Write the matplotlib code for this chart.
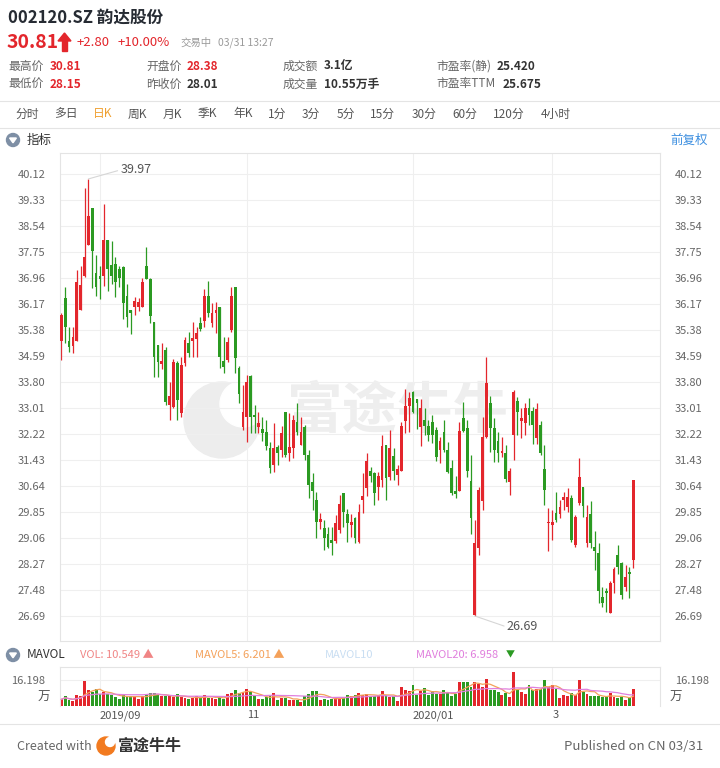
import matplotlib
matplotlib.use("Agg")
import matplotlib.pyplot as plt
from matplotlib.patches import Circle, Polygon
import numpy as np
import pandas as pd

plt.rcParams["font.family"] = ["Noto Sans CJK SC", "DejaVu Sans"]

# daily K-line, 2019-08 .. 2020-03-31
opens = [35.06, 36.34, 35.05, 34.89, 35.06, 35.99, 37.03, 37.96, 39.08, 37.10,
         37.03, 37.03, 38.11, 37.36, 37.38, 37.22, 37.28, 36.42, 35.99, 36.09,
         36.07, 36.07, 37.33, 36.93, 35.63, 34.92, 34.35, 34.77, 33.10, 33.05,
         34.37, 32.85, 34.37, 34.99, 35.05, 35.11, 35.60, 35.66, 36.42, 35.58,
         35.89, 36.09, 34.45, 34.47, 35.38, 36.70, 34.22, 32.44, 32.75, 33.98,
         32.80, 32.42, 32.36, 32.29, 31.78, 31.28, 31.81, 31.73, 32.90, 31.63,
         31.78, 32.59, 31.89, 32.44, 31.58, 30.77, 30.22, 29.56, 29.35, 29.18,
         29.00, 28.98, 29.30, 30.42, 29.79, 29.46, 29.68, 28.95, 30.20, 30.57,
         31.11, 31.03, 30.62, 30.82, 31.89, 30.90, 31.55, 30.98, 31.11, 32.63,
         33.07, 33.51, 33.27, 32.42, 32.65, 32.46, 32.59, 32.34, 31.73, 32.29,
         31.73, 31.18, 30.50, 30.50, 32.70, 32.39, 30.80, 26.72, 28.75, 30.17,
         32.14, 33.15, 32.39, 32.02, 31.63, 31.63, 30.77, 32.19, 33.23, 32.60,
         32.55, 33.00, 32.93, 32.09, 32.50, 31.15, 29.51, 29.46, 29.81, 29.79,
         30.22, 29.99, 30.27, 28.85, 30.12, 30.62, 28.90, 29.79, 28.78, 28.61,
         27.28, 27.46, 26.79, 27.68, 28.54, 28.29, 27.58, 28.04, 28.38]
highs = [35.89, 36.70, 35.48, 35.48, 37.20, 37.31, 39.68, 39.97, 39.08, 37.66,
         37.31, 39.21, 38.11, 38.09, 37.61, 37.31, 37.31, 36.78, 35.99, 36.39,
         36.35, 36.95, 37.91, 36.95, 35.63, 34.92, 34.97, 34.85, 33.79, 34.50,
         34.45, 34.57, 35.18, 35.33, 35.63, 35.48, 35.79, 36.62, 36.88, 36.19,
         36.22, 36.09, 35.18, 35.18, 36.70, 36.70, 34.30, 33.71, 34.01, 34.01,
         33.10, 32.90, 32.75, 32.65, 31.99, 32.54, 31.89, 32.46, 32.90, 32.85,
         32.80, 33.15, 32.75, 32.49, 31.73, 31.03, 30.47, 29.83, 29.61, 29.40,
         29.40, 29.76, 30.37, 30.44, 29.93, 29.79, 29.71, 30.10, 31.03, 31.63,
         31.23, 31.08, 31.08, 32.19, 31.89, 32.34, 31.79, 31.28, 32.59, 33.58,
         33.51, 33.54, 33.27, 33.27, 33.00, 32.65, 32.80, 32.42, 32.14, 32.65,
         31.99, 31.43, 30.94, 32.59, 33.20, 32.65, 31.58, 29.61, 30.60, 32.75,
         34.56, 33.36, 32.70, 32.29, 32.14, 31.89, 31.18, 33.56, 33.33, 33.00,
         33.15, 33.30, 33.05, 33.15, 32.60, 31.89, 29.96, 29.91, 30.47, 30.22,
         30.47, 30.57, 30.37, 29.76, 31.48, 30.62, 30.06, 30.17, 29.28, 28.90,
         27.58, 27.53, 27.76, 28.19, 28.85, 28.34, 28.24, 28.19, 30.81]
lows = [34.47, 34.99, 34.72, 34.69, 35.06, 35.99, 37.00, 37.96, 36.65, 36.42,
        36.31, 36.72, 36.57, 36.78, 36.37, 36.70, 35.70, 35.48, 35.25, 35.84,
        35.95, 36.07, 36.92, 35.60, 33.96, 33.96, 34.20, 33.10, 32.65, 33.00,
        32.65, 32.75, 34.30, 34.57, 34.57, 34.57, 35.35, 35.48, 35.79, 35.48,
        35.30, 34.22, 34.06, 34.42, 35.33, 34.06, 33.17, 32.34, 31.99, 32.24,
        32.24, 32.24, 32.00, 31.73, 31.03, 31.08, 31.28, 31.51, 31.53, 31.41,
        31.48, 32.19, 31.89, 31.43, 30.27, 29.91, 29.05, 29.32, 28.70, 28.75,
        28.54, 28.90, 29.20, 29.40, 28.95, 29.10, 28.92, 28.90, 29.81, 30.34,
        30.77, 30.06, 30.22, 30.62, 30.20, 30.82, 30.82, 30.67, 31.11, 32.24,
        32.29, 32.85, 32.36, 31.86, 32.19, 32.02, 31.96, 31.41, 31.35, 31.68,
        31.03, 30.37, 30.27, 30.50, 32.29, 30.92, 29.18, 26.69, 28.54, 29.91,
        32.10, 31.68, 31.38, 31.38, 31.51, 30.77, 30.37, 31.43, 32.19, 32.09,
        32.19, 32.50, 31.92, 31.92, 31.58, 30.06, 28.65, 29.00, 29.56, 29.66,
        29.91, 29.86, 28.95, 28.80, 30.06, 29.71, 28.80, 28.75, 28.09, 27.07,
        26.97, 26.82, 26.77, 27.40, 27.97, 27.20, 27.46, 27.23, 28.15]
closes = [35.84, 35.48, 34.87, 35.18, 36.85, 36.75, 37.59, 38.84, 37.79, 36.70,
          36.93, 38.11, 37.22, 37.03, 36.85, 36.97, 36.19, 35.76, 35.89, 36.26,
          36.22, 36.85, 36.92, 35.82, 34.57, 34.42, 34.45, 33.18, 33.36, 34.42,
          33.25, 34.32, 35.08, 34.67, 35.13, 35.28, 35.41, 36.42, 35.91, 35.91,
          35.98, 34.57, 34.25, 35.03, 36.42, 34.54, 33.44, 32.90, 33.81, 32.75,
          32.73, 32.54, 32.24, 31.86, 31.18, 31.78, 31.65, 32.26, 31.58, 31.81,
          32.64, 32.29, 32.29, 31.58, 30.67, 30.50, 29.56, 29.64, 29.05, 28.80,
          28.90, 29.51, 30.08, 29.86, 29.51, 29.56, 29.05, 29.85, 30.34, 31.41,
          30.95, 30.44, 30.94, 31.86, 30.87, 31.79, 31.11, 31.15, 32.46, 33.07,
          33.30, 32.90, 33.15, 33.00, 32.46, 32.19, 32.19, 31.51, 32.02, 31.73,
          31.08, 30.44, 30.40, 32.32, 32.32, 31.11, 29.66, 28.92, 30.52, 32.14,
          33.78, 32.39, 31.73, 31.63, 31.71, 30.84, 31.11, 33.51, 32.90, 32.70,
          33.00, 32.80, 32.50, 32.97, 31.63, 30.52, 29.56, 29.56, 29.61, 29.99,
          30.30, 30.30, 29.00, 29.71, 30.90, 30.03, 29.71, 28.90, 28.65, 27.46,
          27.07, 27.40, 27.68, 28.11, 28.19, 27.33, 27.86, 27.97, 30.81]
# volume in 万手
volumes = [4.2, 6.1, 3.6, 2.9, 6.7, 6.1, 15.8, 9.9, 8.8, 10.5,
           7.8, 8.8, 7.8, 6.7, 5.7, 4.6, 6.7, 6.1, 6.1, 6.1,
           4.6, 6.1, 6.7, 8.4, 8.2, 6.7, 6.1, 6.1, 6.1, 5.7,
           7.8, 5.7, 5.3, 4.2, 5.3, 6.1, 5.3, 6.7, 5.3, 5.3,
           4.6, 5.7, 4.6, 7.8, 8.4, 9.9, 8.2, 8.8, 10.5, 8.8,
           6.1, 4.6, 4.6, 5.7, 6.1, 8.4, 3.6, 5.3, 5.3, 4.0,
           4.0, 3.6, 2.5, 6.1, 7.8, 9.5, 9.5, 4.0, 4.6, 3.6,
           4.6, 5.7, 5.3, 5.3, 6.7, 6.1, 6.7, 8.2, 6.7, 7.8,
           6.1, 6.1, 6.7, 9.5, 6.7, 5.7, 6.1, 2.9, 12.0, 9.9,
           9.5, 13.4, 7.1, 9.5, 11.6, 7.1, 9.5, 7.8, 7.4, 9.9,
           8.2, 6.1, 7.8, 15.1, 15.1, 15.1, 12.0, 15.1, 14.1, 12.0,
           17.2, 9.9, 9.9, 8.8, 6.7, 8.2, 5.7, 21.4, 9.9, 8.8,
           7.8, 13.0, 9.9, 10.9, 10.9, 16.6, 12.0, 13.0, 10.9, 5.3,
           6.7, 6.1, 8.2, 6.7, 16.2, 8.8, 7.8, 6.1, 6.1, 6.1,
           5.7, 5.7, 8.2, 5.7, 5.3, 5.7, 4.0, 5.3, 10.549]

price_ticks = [40.12, 39.33, 38.54, 37.75, 36.96, 36.17, 35.38, 34.59, 33.80,
               33.01, 32.22, 31.43, 30.64, 29.85, 29.06, 28.27, 27.48, 26.69]
month_idx = [10, 48, 91, 127]
month_labels = ["2019/09", "11", "2020/01", "3"]
vol_tick = 16.198
tabs = ["分时", "多日", "日K", "周K", "月K", "季K", "年K", "1分", "3分", "5分",
        "15分", "30分", "60分", "120分", "4小时"]

RED = "#e3262c"
GREEN = "#2b9a22"
GRID = "#efefef"
EDGE = "#e4e4e4"

W, H = 720, 768
fig = plt.figure(figsize=(W / 100, H / 100), dpi=100)

# background layer in pixel coordinates (header, watermark, footer)
bg = fig.add_axes([0, 0, 1, 1], zorder=-1)
bg.set_xlim(0, W)
bg.set_ylim(H, 0)
bg.axis("off")


def t(x, y, s, **kw):
    kw.setdefault("va", "center")
    bg.text(x, y, s, **kw)


t(8, 18, "002120.SZ 韵达股份", fontsize=12, fontweight="bold", color="#262b33")
t(7, 43, "30.81", fontsize=14, fontweight="bold", color=RED)
bg.add_patch(Polygon([(58, 41), (64.5, 33), (71, 41)], closed=True, color=RED))
bg.add_patch(Polygon([(62.3, 40), (66.7, 40), (66.7, 51), (62.3, 51)], closed=True, color=RED))
t(77, 43, "+2.80", fontsize=9.5, color=RED)
t(118, 43, "+10.00%", fontsize=9.5, color=RED)
t(180, 43, "交易中", fontsize=7.5, color="#9a9a9a")
t(218, 43, "03/31 13:27", fontsize=7.5, color="#9a9a9a")

info_rows = [
    (66, [("最高价", "30.81", RED), ("开盘价", "28.38", RED),
          ("成交额", "3.1亿", "#333333"), ("市盈率(静)", "25.420", "#333333")]),
    (84, [("最低价", "28.15", RED), ("昨收价", "28.01", "#333333"),
          ("成交量", "10.55万手", "#333333"), ("市盈率TTM", "25.675", "#333333")]),
]
label_x = [8, 146, 283, 436]
value_x = [50, 187, 324, None]
for y, row in info_rows:
    for j, (lab, val, col) in enumerate(row):
        t(label_x[j], y, lab, fontsize=8.5, color="#666666")
        vx = value_x[j] if value_x[j] is not None else (497 if "静" in lab else 503)
        t(vx, y, val, fontsize=8.5, fontweight="bold", color=col)

bg.plot([0, W], [101, 101], color=EDGE, lw=0.8)
bg.plot([0, W], [128, 128], color=EDGE, lw=0.8)
tab_x = [15, 54, 93, 128, 163, 198, 233, 268, 302, 337, 370, 412, 452, 493, 541]
for tx, lab in zip(tab_x, tabs):
    t(tx, 114, lab, fontsize=8.5, color="#f0a030" if lab == "日K" else "#555555")


def section_icon(y):
    bg.add_patch(Circle((13, y), 6.5, color="#7e8fa5"))
    bg.add_patch(Polygon([(9.6, y - 2), (16.4, y - 2), (13, y + 2.8)], closed=True, color="white"))


section_icon(140)
t(27, 140, "指标", fontsize=9, color="#333333")
t(708, 140, "前复权", fontsize=9, color="#3d8fe0", ha="right")

# watermark
bg.add_patch(Circle((222, 420), 38, color="#ededed", zorder=0))
bg.add_patch(Circle((243, 404), 23, color="white", zorder=0))
bg.add_patch(Circle((217, 428), 7, color="#ededed", zorder=0))
t(398, 412, "富途牛牛", fontsize=40, fontweight="bold", color="#eeeeee", ha="center", zorder=0)

# volume header
section_icon(655)
t(27, 655, "MAVOL", fontsize=8.5, color="#333333")
t(80, 655, "VOL: 10.549 ▲", fontsize=8, color="#f08585")
t(195, 655, "MAVOL5: 6.201 ▲", fontsize=8, color="#f4a15a")
t(325, 655, "MAVOL10", fontsize=8, color="#c9def2")
t(416, 655, "MAVOL20: 6.958", fontsize=8, color="#e07fdd")
t(506, 655, "▼", fontsize=6.5, color=GREEN)

# footer
bg.plot([0, W], [724, 724], color=EDGE, lw=0.8)
t(17, 747, "Created with", fontsize=9, color="#666666")
bg.add_patch(Circle((106, 746), 9, color="#f27a1f"))
bg.add_patch(Circle((110, 742), 4.5, color="white"))
t(118, 746, "富途牛牛", fontsize=11.5, fontweight="bold", color="#333333")
t(703, 747, "Published on CN 03/31", fontsize=9.5, color="#666666", ha="right")

# ---- candlestick panel
n = len(closes)
xs = np.arange(n)
o = np.array(opens)
c = np.array(closes)
colors = [RED if cc >= oo else GREEN for oo, cc in zip(o, c)]

px_per_price = 26 / 0.79
y_top = price_ticks[0] + (174 - 153) / px_per_price
y_bot = price_ticks[-1] - (641 - 616) / px_per_price
x_lo, x_hi = -0.34, 154.9

ax = fig.add_axes([60 / W, 1 - 641 / H, 600 / W, (641 - 153) / H])
ax.patch.set_alpha(0)
ax.vlines(xs, lows, highs, colors=colors, lw=0.9, zorder=2)
body_low = np.minimum(o, c)
body_h = np.maximum(np.abs(c - o), 0.03)
ax.bar(xs, body_h, bottom=body_low, width=0.72, color=colors, zorder=3, linewidth=0)
ax.set_xlim(x_lo, x_hi)
ax.set_ylim(y_bot, y_top)
ax.set_yticks(price_ticks)
ax.set_yticklabels([f"{v:.2f}" for v in price_ticks])
ax.set_xticks([])
ax.tick_params(axis="y", left=False, right=False, labelleft=True, labelright=True,
               pad=7, labelsize=8, labelcolor="#666666")
for v in price_ticks:
    ax.axhline(v, color=GRID, lw=0.8, zorder=1)
for m in month_idx:
    ax.axvline(m, color=GRID, lw=0.8, zorder=1)
for s in ax.spines.values():
    s.set_color(EDGE)
    s.set_linewidth(0.8)

imax = int(np.argmax(highs))
imin = int(np.argmin(lows))
arrow = dict(arrowstyle="-", color="#d6d6d6", lw=0.8, shrinkA=0, shrinkB=0, relpos=(0, 0.5))
ax.annotate(f"{highs[imax]:.2f}", xy=(imax, highs[imax]), xytext=(32, 9),
            textcoords="offset pixels", fontsize=9, color="#555555",
            va="center", ha="left", arrowprops=arrow)
ax.annotate(f"{lows[imin]:.2f}", xy=(imin, lows[imin]), xytext=(32, -11),
            textcoords="offset pixels", fontsize=9, color="#555555",
            va="center", ha="left", arrowprops=arrow)

# ---- volume panel
vax = fig.add_axes([60 / W, 1 - 706 / H, 600 / W, 39 / H])
vax.patch.set_alpha(0)
vax.bar(xs, volumes, width=0.75, color=colors, linewidth=0, zorder=2)
vol = pd.Series(volumes)
vax.plot(xs, vol.rolling(5, min_periods=1).mean(), color="#f4a15a", lw=0.9, zorder=3)
vax.plot(xs, vol.rolling(20, min_periods=1).mean(), color="#e07fdd", lw=0.9, zorder=3)
vax.set_xlim(x_lo, x_hi)
vax.set_ylim(0, vol_tick * 39 / 25.7)
vax.set_yticks([vol_tick])
vax.set_yticklabels([f"{vol_tick:.3f}"])
vax.tick_params(axis="y", left=False, right=False, labelleft=True, labelright=True,
                pad=7, labelsize=8, labelcolor="#666666")
vax.set_xticks(month_idx)
vax.set_xticklabels(month_labels, ha="left")
vax.tick_params(axis="x", length=0, pad=3, labelsize=8, labelcolor="#555555")
vax.axhline(vol_tick, color=GRID, lw=0.8, zorder=1)
for m in month_idx:
    vax.axvline(m, color=GRID, lw=0.8, zorder=1)
for name, s in vax.spines.items():
    s.set_color(EDGE)
    s.set_linewidth(0.8)
vax.spines["bottom"].set_visible(False)
t(50, 697, "万", fontsize=9, color="#555555", ha="right")
t(670, 697, "万", fontsize=9, color="#555555", ha="left")

fig.savefig("out.png", dpi=100)
